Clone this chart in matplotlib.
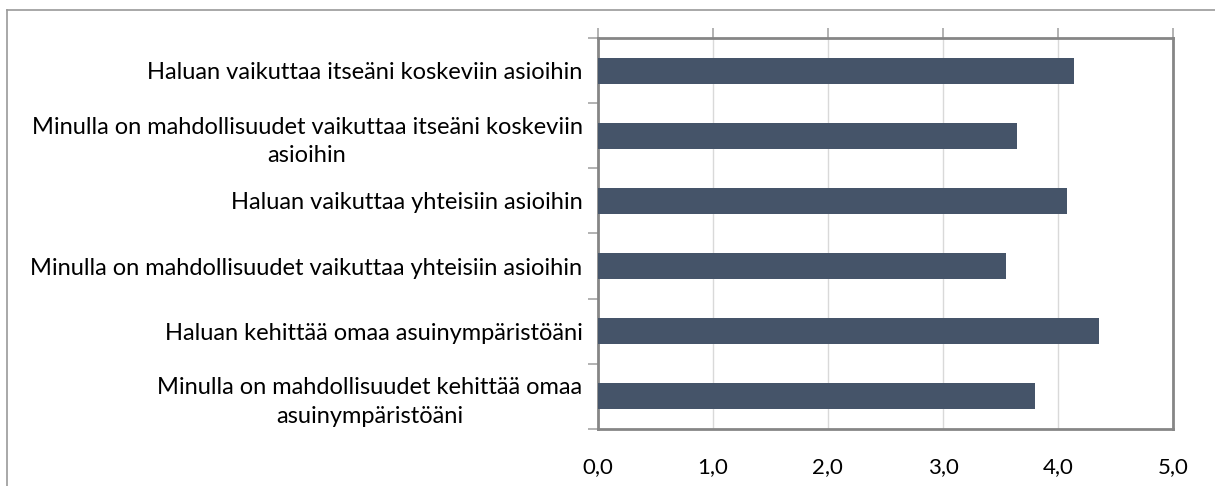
import matplotlib.pyplot as plt
from matplotlib.lines import Line2D
import numpy as np

# Kysymykset ja keskiarvot (ylhäältä alas)
labels = [
    'Haluan vaikuttaa itseäni koskeviin asioihin',
    'Minulla on mahdollisuudet vaikuttaa itseäni koskeviin\nasioihin',
    'Haluan vaikuttaa yhteisiin asioihin',
    'Minulla on mahdollisuudet vaikuttaa yhteisiin asioihin',
    'Haluan kehittää omaa asuinympäristöäni',
    'Minulla on mahdollisuudet kehittää omaa\nasuinympäristöäni',
]
values = [4.14, 3.64, 4.08, 3.55, 4.36, 3.80]
x_ticks = [0, 1, 2, 3, 4, 5]
x_tick_labels = ['0,0', '1,0', '2,0', '3,0', '4,0', '5,0']

plt.rcParams['font.family'] = ['Lato', 'DejaVu Sans']

fig = plt.figure(figsize=(12.15, 4.86), dpi=100)
ax = fig.add_axes([0.492, 0.1173, 0.4735, 0.8045])

pos = np.arange(len(labels))
ax.barh(pos, values, height=0.4, color='#455469', zorder=3)

ax.set_xlim(0, 5)
ax.set_ylim(len(labels) - 0.5, -0.5)

ax.set_xticks(x_ticks)
ax.set_xticklabels(x_tick_labels, fontsize=16)
ax.set_yticks(pos)
ax.set_yticklabels(labels, fontsize=17)
for lab in ax.get_yticklabels():
    lab.set_multialignment('center')
    lab.set_linespacing(1.45)
ax.set_yticks(np.arange(len(labels) + 1) - 0.5, minor=True)

ax.grid(axis='x', color='#d9d9d9', linewidth=1, zorder=0)

# tikit ylhäällä, numerot alhaalla
ax.tick_params(axis='x', which='major', top=True, bottom=False, labelbottom=True,
               labeltop=False, direction='out', length=7, width=1.2, color='#a6a6a6', pad=13)
ax.tick_params(axis='y', which='major', length=0, pad=11)
ax.tick_params(axis='y', which='minor', length=7, width=1.2, color='#a6a6a6')

for s in ax.spines.values():
    s.set_color('#868686')
    s.set_linewidth(2)

# kehys kuvan ympärillä
fig.add_artist(Line2D([7 / 1215, 7 / 1215], [0, 1 - 10 / 486], transform=fig.transFigure,
                      color='#9a9a9a', linewidth=1.2))
fig.add_artist(Line2D([7 / 1215, 1], [1 - 10 / 486, 1 - 10 / 486], transform=fig.transFigure,
                      color='#9a9a9a', linewidth=1.2))

fig.savefig('out.png', dpi=100)
